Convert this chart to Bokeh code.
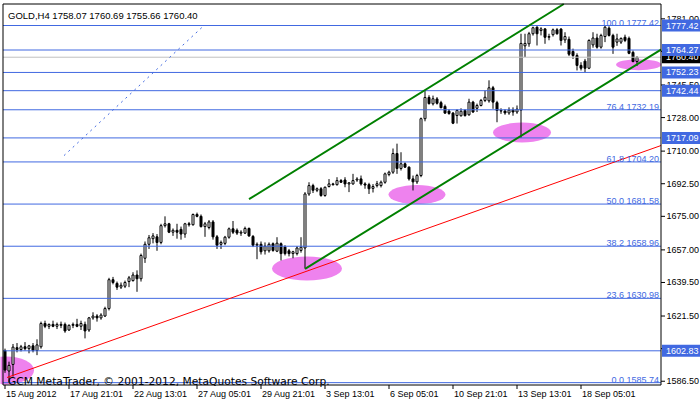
from bokeh.plotting import figure
from bokeh.models import Range1d
from bokeh.core.properties import value
from bokeh.embed import file_html
from bokeh.resources import INLINE

# ---------------- data ----------------
bar_open = [1603.0, 1592.0, 1595.5, 1604.5, 1603.5, 1605.0, 1604.0, 1605.5, 1603.0, 1605.0,
            1617.5, 1616.0, 1617.0, 1616.0, 1616.5, 1617.0, 1614.0, 1616.5, 1617.0, 1616.0,
            1617.0, 1614.0, 1620.5, 1621.5, 1620.5, 1621.5, 1625.5, 1641.0, 1639.0, 1637.0,
            1637.5, 1640.0, 1640.5, 1643.5, 1641.5, 1652.5, 1660.0, 1663.0, 1664.0, 1661.0,
            1670.0, 1671.0, 1666.5, 1667.5, 1668.0, 1665.5, 1671.0, 1670.5, 1676.0, 1675.0,
            1669.5, 1669.0, 1672.0, 1664.0, 1660.0, 1660.5, 1663.8, 1668.3, 1667.5, 1666.0,
            1666.0, 1668.5, 1664.2, 1659.5, 1660.0, 1656.5, 1656.5, 1660.3, 1656.3, 1660.3,
            1658.5, 1656.5, 1655.0, 1655.0, 1656.7, 1658.0, 1687.0, 1691.5, 1689.0, 1689.8,
            1686.2, 1691.0, 1692.4, 1692.0, 1694.2, 1694.5, 1692.4, 1692.4, 1694.5, 1695.1,
            1692.4, 1692.0, 1690.0, 1691.5, 1691.5, 1693.3, 1697.5, 1698.7, 1708.7, 1700.7,
            1703.2, 1701.4, 1695.1, 1693.5, 1696.9, 1727.4, 1738.8, 1735.4, 1738.0, 1736.0,
            1734.0, 1731.5, 1730.4, 1729.1, 1729.0, 1731.8, 1729.5, 1736.3, 1733.0, 1734.5,
            1737.2, 1737.0, 1744.0, 1736.0, 1731.8, 1731.5, 1730.5, 1732.0, 1731.0, 1732.0,
            1766.5, 1767.6, 1773.0, 1776.5, 1774.7, 1775.6, 1771.1, 1772.5, 1775.1, 1775.5,
            1769.7, 1770.0, 1763.5, 1761.3, 1756.0, 1758.3, 1754.5, 1767.0, 1770.7, 1765.8,
            1771.5, 1776.0, 1772.1, 1768.5, 1768.5, 1771.1, 1770.5, 1763.0, 1758.07]
bar_high = [1604.0, 1597.0, 1606.5, 1607.0, 1606.0, 1607.5, 1606.0, 1607.0, 1609.0, 1618.5,
            1619.0, 1617.5, 1619.0, 1618.0, 1618.5, 1618.0, 1617.0, 1618.0, 1620.0, 1619.0,
            1618.5, 1621.0, 1623.5, 1622.5, 1623.0, 1626.5, 1642.0, 1642.5, 1640.0, 1639.5,
            1640.5, 1643.0, 1645.0, 1646.0, 1655.0, 1661.5, 1665.0, 1666.0, 1665.5, 1671.0,
            1675.0, 1671.5, 1668.5, 1671.0, 1669.5, 1671.5, 1672.0, 1676.5, 1677.0, 1676.0,
            1672.0, 1673.0, 1673.0, 1665.0, 1662.0, 1664.5, 1669.0, 1672.5, 1668.5, 1667.5,
            1669.5, 1669.0, 1665.0, 1661.0, 1661.5, 1661.0, 1661.0, 1661.0, 1663.8, 1661.0,
            1659.5, 1657.5, 1656.5, 1659.0, 1663.8, 1688.0, 1693.3, 1692.5, 1690.5, 1690.7,
            1691.0, 1695.0, 1693.0, 1696.0, 1695.0, 1696.0, 1693.3, 1697.8, 1696.0, 1696.9,
            1693.3, 1693.0, 1692.3, 1694.0, 1694.2, 1698.5, 1699.5, 1711.4, 1714.0, 1709.4,
            1704.0, 1701.8, 1696.9, 1697.8, 1728.0, 1742.4, 1740.0, 1739.8, 1739.0, 1737.0,
            1735.0, 1732.5, 1731.0, 1732.5, 1733.0, 1732.5, 1738.1, 1737.0, 1735.5, 1738.0,
            1742.5, 1748.0, 1745.0, 1737.0, 1733.0, 1732.5, 1733.5, 1733.5, 1734.5, 1773.0,
            1773.0, 1774.0, 1776.8, 1777.0, 1776.5, 1776.0, 1773.0, 1775.8, 1776.0, 1776.0,
            1773.8, 1771.5, 1765.0, 1762.5, 1757.7, 1759.5, 1770.0, 1773.8, 1773.0, 1773.0,
            1777.42, 1777.0, 1773.0, 1773.0, 1771.0, 1772.5, 1771.5, 1764.0, 1760.69]
bar_low = [1591.0, 1585.74, 1589.0, 1602.0, 1602.5, 1603.0, 1601.5, 1602.0, 1600.5, 1604.0,
           1615.0, 1614.5, 1615.5, 1614.5, 1615.0, 1612.5, 1613.5, 1615.0, 1615.5, 1614.0,
           1609.5, 1613.0, 1619.5, 1618.5, 1619.5, 1621.0, 1624.5, 1638.5, 1635.5, 1636.0,
           1636.5, 1637.0, 1640.0, 1634.5, 1640.0, 1650.0, 1657.5, 1660.5, 1656.5, 1660.0,
           1669.0, 1666.0, 1664.5, 1663.0, 1662.5, 1663.5, 1669.5, 1670.0, 1674.5, 1669.0,
           1664.0, 1668.0, 1662.5, 1657.5, 1657.5, 1659.5, 1663.0, 1665.5, 1665.0, 1664.5,
           1665.5, 1664.0, 1658.5, 1652.0, 1654.5, 1654.5, 1655.5, 1656.0, 1655.8, 1651.3,
           1654.0, 1653.5, 1652.5, 1654.0, 1655.5, 1647.0, 1686.0, 1687.5, 1688.0, 1685.5,
           1685.5, 1690.5, 1691.5, 1691.5, 1693.0, 1690.6, 1688.0, 1692.0, 1693.5, 1691.5,
           1689.8, 1687.0, 1687.8, 1690.5, 1690.5, 1692.5, 1696.5, 1697.8, 1697.8, 1699.6,
           1701.0, 1694.2, 1688.9, 1692.4, 1696.0, 1726.0, 1735.0, 1734.5, 1735.0, 1733.0,
           1730.0, 1729.5, 1724.5, 1724.8, 1728.5, 1728.5, 1729.0, 1730.5, 1731.0, 1734.0,
           1736.3, 1736.0, 1732.7, 1725.5, 1730.0, 1729.5, 1729.5, 1729.0, 1730.0, 1717.1,
           1760.5, 1766.0, 1772.0, 1766.7, 1772.1, 1767.6, 1769.5, 1771.5, 1772.5, 1766.7,
           1768.0, 1761.0, 1759.5, 1753.3, 1753.3, 1752.2, 1754.0, 1765.5, 1765.0, 1765.0,
           1768.5, 1771.5, 1762.2, 1766.5, 1767.5, 1768.5, 1762.0, 1757.7, 1755.66]
bar_close = [1592.5, 1595.0, 1604.8, 1603.5, 1605.0, 1604.0, 1605.5, 1603.0, 1606.0, 1617.5,
             1616.0, 1617.0, 1616.0, 1617.0, 1617.0, 1613.5, 1616.5, 1617.0, 1616.0, 1617.5,
             1613.5, 1620.5, 1621.5, 1620.5, 1622.0, 1625.5, 1641.0, 1639.5, 1637.0, 1638.0,
             1639.5, 1642.0, 1643.5, 1641.5, 1654.0, 1660.0, 1663.5, 1664.5, 1661.0, 1670.0,
             1671.0, 1666.5, 1667.5, 1666.5, 1665.5, 1671.0, 1670.5, 1676.0, 1675.0, 1669.5,
             1671.0, 1672.0, 1664.0, 1659.5, 1661.0, 1663.8, 1668.3, 1666.5, 1666.0, 1666.5,
             1668.5, 1664.5, 1659.5, 1660.0, 1656.0, 1659.0, 1660.0, 1656.7, 1660.6, 1655.0,
             1655.0, 1655.0, 1656.0, 1658.0, 1658.4, 1687.0, 1691.5, 1689.0, 1689.8, 1686.2,
             1690.6, 1692.4, 1692.0, 1694.2, 1693.3, 1692.4, 1693.0, 1694.2, 1695.0, 1692.4,
             1691.8, 1689.8, 1691.0, 1692.5, 1693.3, 1697.8, 1698.7, 1708.7, 1700.7, 1703.2,
             1701.4, 1695.1, 1693.5, 1696.9, 1727.4, 1738.8, 1735.5, 1738.1, 1735.7, 1733.3,
             1730.4, 1730.2, 1725.0, 1731.8, 1731.4, 1729.1, 1736.3, 1731.0, 1734.5, 1737.2,
             1738.9, 1744.0, 1736.3, 1731.8, 1731.5, 1730.5, 1732.0, 1731.0, 1732.5, 1767.8,
             1767.8, 1773.0, 1776.2, 1773.0, 1775.6, 1771.1, 1771.5, 1775.1, 1773.0, 1769.4,
             1771.5, 1762.0, 1761.3, 1756.0, 1754.5, 1754.5, 1769.4, 1770.7, 1765.8, 1772.1,
             1776.5, 1772.1, 1765.8, 1770.2, 1770.5, 1769.4, 1762.5, 1758.07, 1760.40]

time_tick_bars = [0, 16, 32, 48, 64, 80, 96, 112, 128, 144]
time_tick_labels = ["15 Aug 2012", "17 Aug 21:01", "22 Aug 13:01", "27 Aug 05:01",
                    "29 Aug 21:01", "3 Sep 13:01", "6 Sep 05:01", "10 Sep 21:01",
                    "13 Sep 13:01", "18 Sep 05:01"]
price_ticks = [1586.50, 1604.00, 1621.50, 1639.50, 1657.00, 1675.00, 1692.50,
               1710.00, 1728.00, 1745.50, 1763.50, 1781.00]
hidden_price_ticks = [1604.00, 1763.50]

fib_percent = ["100.0", "76.4", "61.8", "50.0", "38.2", "23.6", "0.0"]
fib_levels = [1777.42, 1732.19, 1704.20, 1681.58, 1658.96, 1630.98, 1585.74]
support_levels = [1764.27, 1752.23, 1742.44, 1717.09, 1602.83]
boxed_levels = [1777.42, 1764.27, 1752.23, 1742.44, 1717.09, 1602.83]
bid_price = 1760.40

# trend lines: (bar index, price) end points
upper_channel_x = [61.0, 139.7]
upper_channel_y = [1684.2, 1788.96]
lower_channel_x = [75.0, 164.0]
lower_channel_y = [1646.8, 1764.5]
red_trend_x = [0.5, 164.0]
red_trend_y = [1588.5, 1713.0]
fib_diag_x = [14.75, 49.75]
fib_diag_y = [1707.6, 1777.42]

# highlighted areas: centre bar, centre price, width (bars), height (price)
mark_x = [0.25, 75.5, 103.0, 129.25, 158.4]
mark_y = [1592.3, 1647.0, 1686.7, 1720.0, 1756.4]
mark_w = [14.0, 17.5, 14.25, 14.5, 11.25]
mark_h = [15.0, 12.9, 10.2, 10.7, 5.9]

title_text = "GOLD,H4  1758.07 1760.69 1755.66 1760.40"
copyright_text = "GCM MetaTrader, \u00a9 2001-2012, MetaQuotes Software Corp."

# ---------------- geometry & styling ----------------
FONT = value("Liberation Sans")
BLUE = "#4169E1"
CANVAS_W, CANVAS_H = 700, 402
CHART_L, CHART_R, CHART_T, CHART_B = 2.5, 660.5, 3.5, 384.5   # chart frame inside the canvas (px)
x_lo, x_hi = -0.5, 164.0                                     # bar range of the chart frame
y_lo, y_hi = 1584.48, 1788.96                                # price range of the chart frame
sx = (CHART_R - CHART_L) / (x_hi - x_lo)                     # px per bar
sy = (CHART_B - CHART_T) / (y_hi - y_lo)                     # px per price unit


def dx(px):
    return px / sx


def dy(px):
    return px / sy


full_x = Range1d(x_lo - dx(CHART_L), x_lo + dx(CANVAS_W - CHART_L))
full_y = Range1d(y_lo - dy(CANVAS_H - CHART_B), y_hi + dy(CHART_T))

p = figure(width=CANVAS_W, height=CANVAS_H, output_backend="svg", toolbar_location=None,
           x_range=full_x, y_range=full_y, x_axis_location=None, y_axis_location=None,
           min_border_left=0, min_border_right=0, min_border_top=0, min_border_bottom=0)
p.background_fill_color = "white"
p.border_fill_color = "white"
p.outline_line_color = None
p.xgrid.visible = False
p.ygrid.visible = False

# highlighted ellipses (background objects)
p.ellipse(x=mark_x, y=mark_y, width=mark_w, height=mark_h,
          fill_color="#EE82EE", line_color=None)

# candles
idx = list(range(len(bar_open)))
up_x, up_top, up_bot = [], [], []
dn_x, dn_top, dn_bot = [], [], []
for i, o, c in zip(idx, bar_open, bar_close):
    if c >= o:
        up_x.append(i); up_top.append(c); up_bot.append(o)
    else:
        dn_x.append(i); dn_top.append(o); dn_bot.append(c)

p.segment(x0=idx, y0=bar_low, x1=idx, y1=bar_high, line_color="black", line_width=1)
p.vbar(x=up_x, top=up_top, bottom=up_bot, width=0.5,
       fill_color="white", line_color="black", line_width=1)
p.vbar(x=dn_x, top=dn_top, bottom=dn_bot, width=0.5,
       fill_color="black", line_color="black", line_width=1)

# horizontal levels across the chart
all_levels = fib_levels + support_levels
p.segment(x0=[x_lo] * len(all_levels), y0=all_levels, x1=[x_hi] * len(all_levels), y1=all_levels,
          line_color=BLUE, line_width=1)
p.segment(x0=[x_lo], y0=[bid_price], x1=[x_hi], y1=[bid_price], line_color="#C0C0C0", line_width=1)

# trend lines
p.line(upper_channel_x, upper_channel_y, line_color="#008000", line_width=2)
p.line(lower_channel_x, lower_channel_y, line_color="#008000", line_width=2)
p.line(red_trend_x, red_trend_y, line_color="#FF0000", line_width=1)
p.line(fib_diag_x, fib_diag_y, line_color=BLUE, line_width=1, line_dash="2 4")

# fibonacci level captions
p.text(x=[x_hi - dx(2)] * len(fib_levels), y=[lv + dy(3) for lv in fib_levels],
       text=[f"{pc} {lv:.2f}" for pc, lv in zip(fib_percent, fib_levels)],
       text_align="right", text_baseline="alphabetic", text_color=BLUE,
       text_font=FONT, text_font_size="9px")

# title and copyright
p.text(x=[x_lo + dx(5)], y=[y_hi - dy(11)], text=[title_text],
       text_align="left", text_baseline="alphabetic", text_color="black",
       text_font=FONT, text_font_size="9.5px")
p.text(x=[x_lo + dx(5)], y=[y_lo + dy(3.5)], text=[copyright_text],
       text_align="left", text_baseline="alphabetic", text_color="black",
       text_font=value("DejaVu Sans"), text_font_size="10.7px")

# chart frame (left, top, bottom, right/price-scale line)
p.segment(x0=[x_lo, x_lo, x_lo, x_hi], y0=[y_lo, y_hi, y_lo, y_lo],
          x1=[x_lo, x_hi, x_hi, x_hi], y1=[y_hi, y_hi, y_lo, y_hi],
          line_color="black", line_width=1)

# time scale
p.segment(x0=time_tick_bars, y0=[y_lo] * len(time_tick_bars),
          x1=time_tick_bars, y1=[y_lo - dy(4)] * len(time_tick_bars),
          line_color="black", line_width=1)
p.text(x=[b + dx(1) for b in time_tick_bars], y=[y_lo - dy(3.5)] * len(time_tick_bars),
       text=time_tick_labels, text_align="left", text_baseline="top", text_color="black",
       text_font=FONT, text_font_size="9px")

# price scale
p.segment(x0=[x_hi] * len(price_ticks), y0=price_ticks,
          x1=[x_hi + dx(4)] * len(price_ticks), y1=price_ticks,
          line_color="black", line_width=1)
shown = [t for t in price_ticks if t not in hidden_price_ticks]
p.text(x=[x_hi + dx(5.5)] * len(shown), y=shown, text=[f"{t:.2f}" for t in shown],
       text_align="left", text_baseline="middle", text_color="black",
       text_font=FONT, text_font_size="9px")

# price boxes on the scale: current bid (black) first, then the level boxes
box_l, box_r, box_half = x_hi + dx(1), x_hi + dx(40), dy(6)
p.quad(left=[box_l], right=[box_r], top=[bid_price + box_half], bottom=[bid_price - box_half],
       fill_color="black", line_color=None)
p.text(x=[x_hi + dx(5)], y=[bid_price], text=[f"{bid_price:.2f}"],
       text_align="left", text_baseline="middle", text_color="white",
       text_font=FONT, text_font_size="9px")
p.quad(left=[box_l] * len(boxed_levels), right=[box_r] * len(boxed_levels),
       top=[lv + box_half for lv in boxed_levels], bottom=[lv - box_half for lv in boxed_levels],
       fill_color=BLUE, line_color=None)
p.text(x=[x_hi + dx(5)] * len(boxed_levels), y=boxed_levels,
       text=[f"{lv:.2f}" for lv in boxed_levels],
       text_align="left", text_baseline="middle", text_color="white",
       text_font=FONT, text_font_size="9px")

open("out.html", "w").write(file_html(p, INLINE))
